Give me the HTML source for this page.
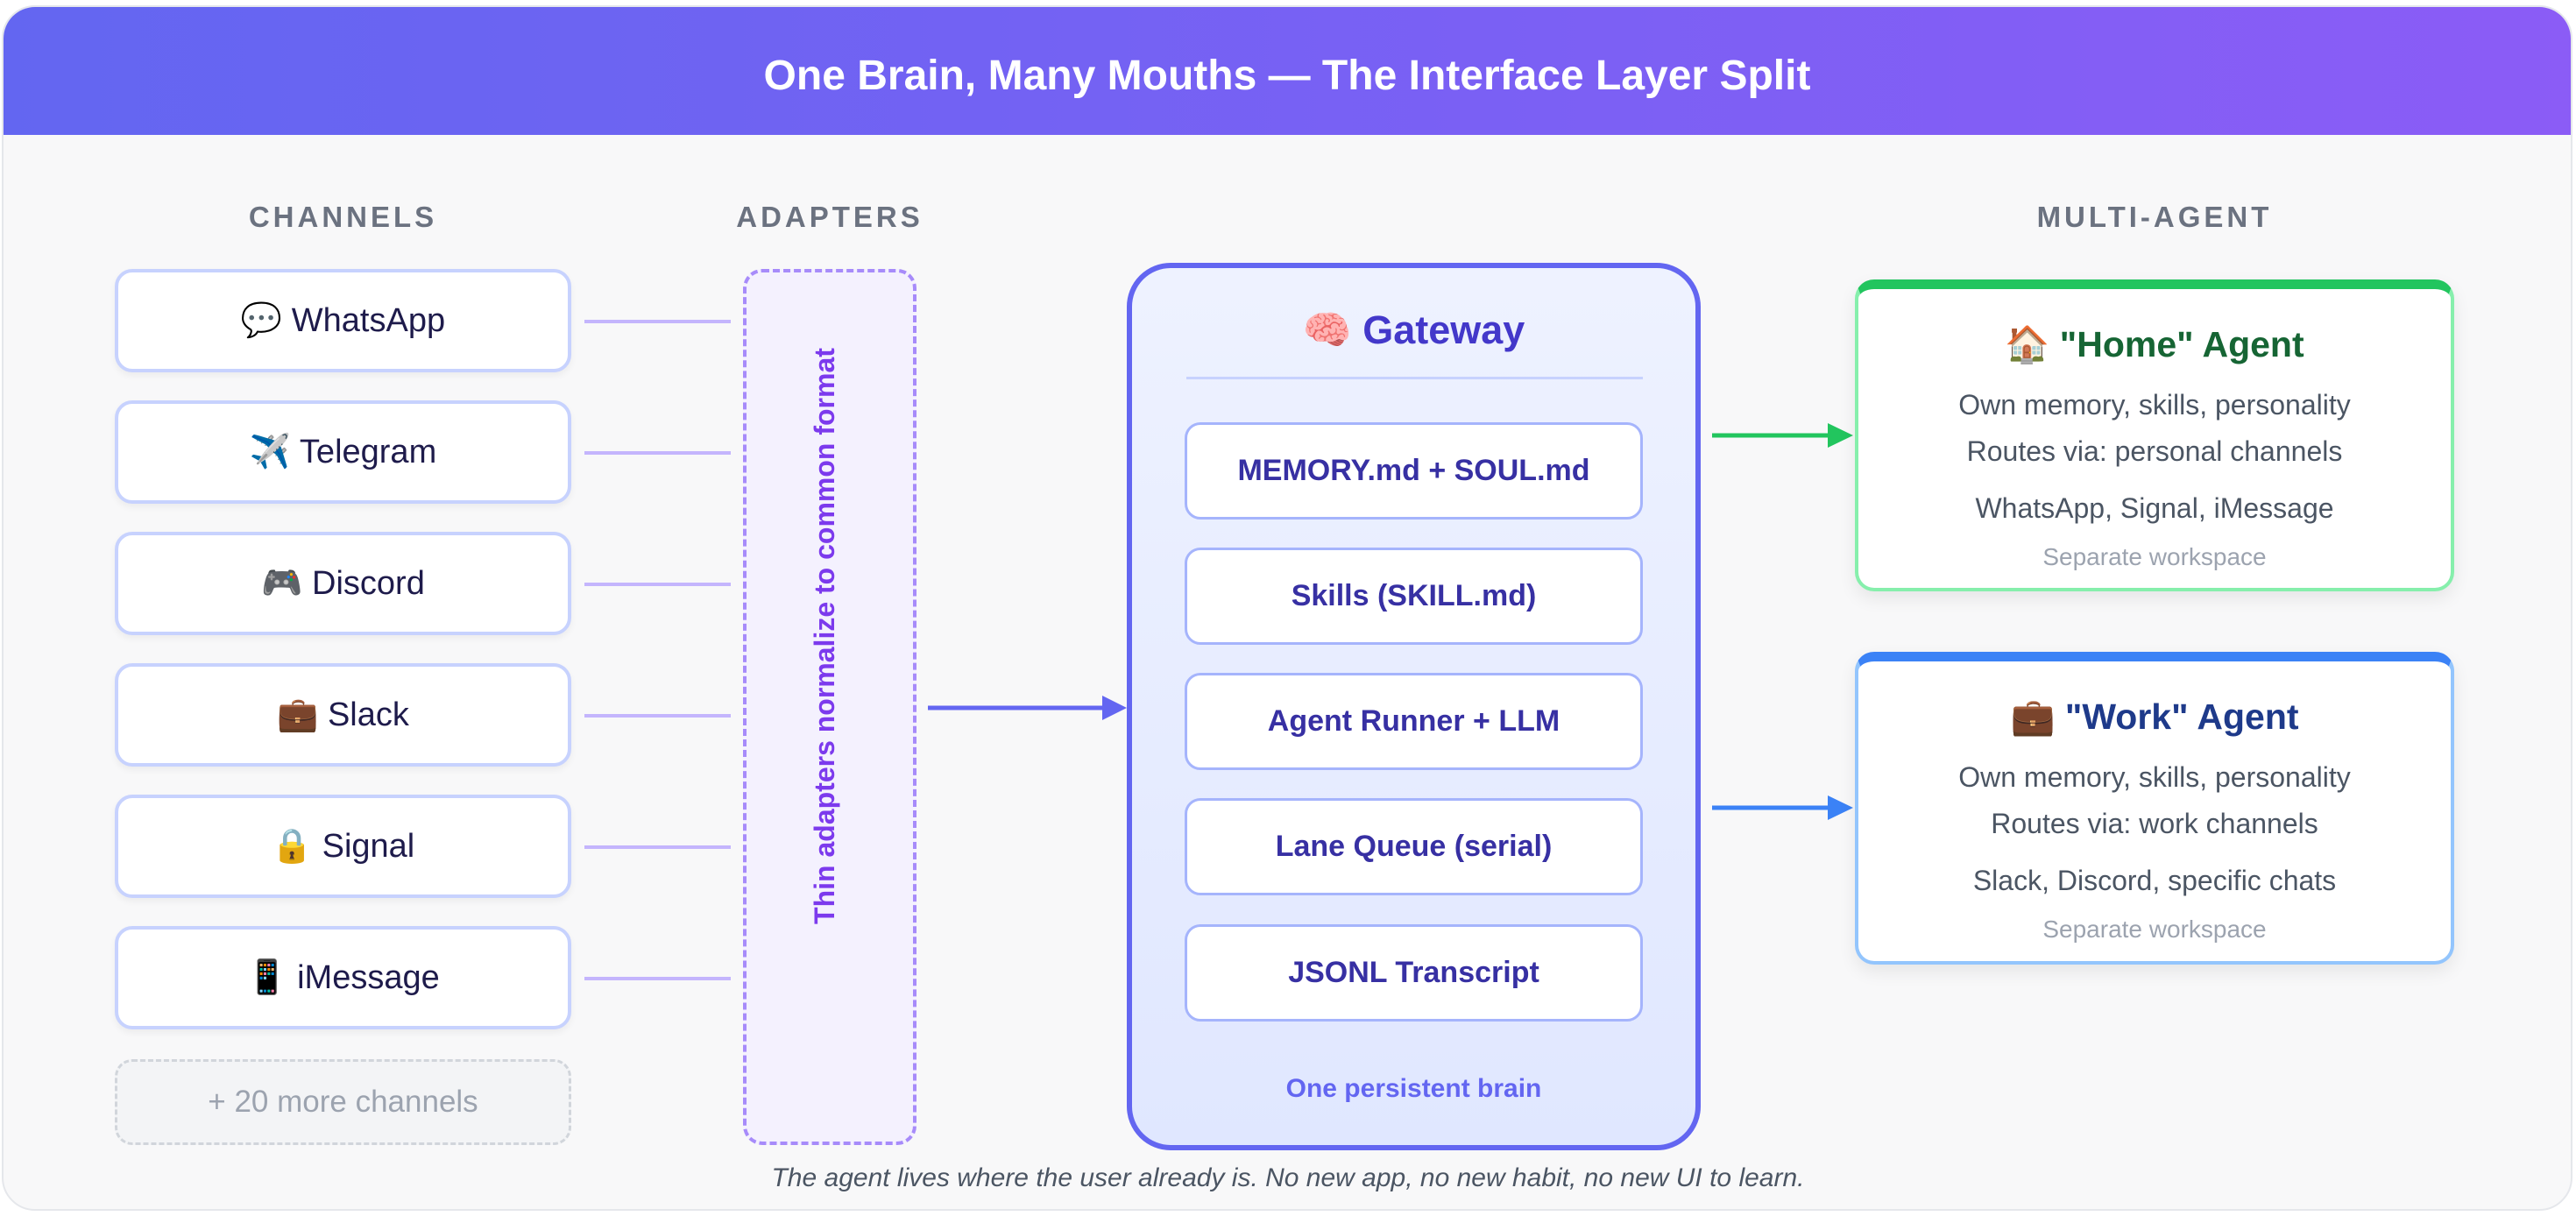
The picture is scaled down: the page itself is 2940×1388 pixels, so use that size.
<!DOCTYPE html>
<html><head><meta charset="utf-8"><style>
*{margin:0;padding:0;box-sizing:border-box}
body{width:2940px;height:1388px;background:#fff;font-family:"Liberation Sans","Noto Sans CJK SC",sans-serif;position:relative;overflow:hidden}
.card{position:absolute;left:2px;top:6px;width:2934px;height:1376px;border-radius:38px;background:#f8f8f9;border:2px solid #e5e7eb;overflow:hidden}
.hdr{position:absolute;left:0;top:0;width:100%;height:146px;background:linear-gradient(90deg,#6366f1,#8b5cf6);color:#fff;font-weight:bold;font-size:48px;text-align:center;line-height:158px}
.a{position:absolute}
.lbl{position:absolute;font-size:33px;font-weight:bold;color:#6b7280;letter-spacing:4px;text-align:center}
.ch{position:absolute;left:131px;width:521px;height:118px;background:#fff;border:4px solid #c7d2fe;border-radius:20px;font-size:38px;color:#1e1b4b;text-align:center;line-height:110px;font-weight:500;box-shadow:0 4px 8px rgba(0,0,0,.05)}
.ln{position:absolute;left:667px;width:167px;height:4px;background:#c4b5fd}
.gi{position:absolute;left:1352px;width:523px;height:111px;background:#fff;border:3px solid #a5b4fc;border-radius:18px;font-size:34px;font-weight:bold;color:#3730a3;text-align:center;line-height:105px}
.ag{position:absolute;left:2117px;width:684px;background:#fff;border-radius:22px;text-align:center;box-shadow:0 8px 20px rgba(0,0,0,.08)}
.t{position:absolute;left:0;width:100%;text-align:center}
</style></head><body>
<div class="card">
<div class="hdr">One Brain, Many Mouths — The Interface Layer Split</div>
</div>
<div class="lbl" style="left:131px;width:521px;top:229px">CHANNELS</div>
<div class="lbl" style="left:780px;width:334px;top:229px">ADAPTERS</div>
<div class="lbl" style="left:2117px;width:684px;top:229px">MULTI-AGENT</div>

<div class="ch" style="top:307px">💬 WhatsApp</div>
<div class="ch" style="top:457px">✈️ Telegram</div>
<div class="ch" style="top:607px">🎮 Discord</div>
<div class="ch" style="top:757px">💼 Slack</div>
<div class="ch" style="top:907px">🔒 Signal</div>
<div class="ch" style="top:1057px">📱 iMessage</div>
<div class="ch" style="top:1209px;height:98px;border:3px dashed #d1d5db;background:#f3f4f6;color:#9ca3af;line-height:92px;box-shadow:none;font-weight:normal;font-size:35px">+ 20 more channels</div>

<div class="ln" style="top:365px"></div>
<div class="ln" style="top:515px"></div>
<div class="ln" style="top:665px"></div>
<div class="ln" style="top:815px"></div>
<div class="ln" style="top:965px"></div>
<div class="ln" style="top:1115px"></div>

<div class="a" style="left:848px;top:307px;width:198px;height:1000px;border:4px dashed #a78bfa;border-radius:22px;background:#f4f1fe"></div>
<div class="a" style="left:941px;top:726px;width:0;height:0">
<div style="position:absolute;left:-500px;top:-20px;width:1000px;text-align:center;font-size:32px;font-weight:bold;color:#7c3aed;transform:rotate(-90deg);line-height:40px">Thin adapters normalize to common format</div></div>

<svg class="a" style="left:0;top:0" width="2940" height="1388">
<line x1="1059" y1="808" x2="1262" y2="808" stroke="#6366f1" stroke-width="5"/>
<polygon points="1258,794 1286,808 1258,822" fill="#6366f1"/>
<line x1="1954" y1="497" x2="2090" y2="497" stroke="#22c55e" stroke-width="5"/>
<polygon points="2086,483 2115,497 2086,511" fill="#22c55e"/>
<line x1="1954" y1="922" x2="2090" y2="922" stroke="#3b82f6" stroke-width="5"/>
<polygon points="2086,908 2115,922 2086,936" fill="#3b82f6"/>
</svg>

<div class="a" style="left:1286px;top:300px;width:655px;height:1013px;border:6px solid #6366f1;border-radius:50px;background:linear-gradient(180deg,#eef2ff,#e0e7ff)"></div>
<div class="t" style="left:1286px;width:655px;top:350px;font-size:45px;font-weight:bold;color:#4338ca">🧠 Gateway</div>
<div class="a" style="left:1354px;top:430px;width:521px;height:3px;background:#c7d2fe"></div>
<div class="gi" style="top:482px">MEMORY.md + SOUL.md</div>
<div class="gi" style="top:625px">Skills (SKILL.md)</div>
<div class="gi" style="top:768px">Agent Runner + LLM</div>
<div class="gi" style="top:911px">Lane Queue (serial)</div>
<div class="gi" style="top:1055px">JSONL Transcript</div>
<div class="t" style="left:1286px;width:655px;top:1226px;font-size:30px;font-weight:bold;color:#6366f1">One persistent brain</div>

<div class="ag" style="top:319px;height:356px;border:4px solid #86efac;border-top:11px solid #22c55e">
<div class="t" style="top:40px;font-size:41px;font-weight:bold;color:#166534">🏠 "Home" Agent</div>
<div class="t" style="top:114px;font-size:32px;color:#4b5563">Own memory, skills, personality</div>
<div class="t" style="top:167px;font-size:32px;color:#4b5563">Routes via: personal channels</div>
<div class="t" style="top:232px;font-size:32px;color:#4b5563">WhatsApp, Signal, iMessage</div>
<div class="t" style="top:290px;font-size:28px;color:#9ca3af">Separate workspace</div>
</div>
<div class="ag" style="top:744px;height:357px;border:4px solid #93c5fd;border-top:11px solid #3b82f6">
<div class="t" style="top:40px;font-size:41px;font-weight:bold;color:#1e3a8a">💼 "Work" Agent</div>
<div class="t" style="top:114px;font-size:32px;color:#4b5563">Own memory, skills, personality</div>
<div class="t" style="top:167px;font-size:32px;color:#4b5563">Routes via: work channels</div>
<div class="t" style="top:232px;font-size:32px;color:#4b5563">Slack, Discord, specific chats</div>
<div class="t" style="top:290px;font-size:28px;color:#9ca3af">Separate workspace</div>
</div>

<div class="t" style="top:1328px;font-size:30px;font-style:italic;color:#4b5563">The agent lives where the user already is. No new app, no new habit, no new UI to learn.</div>
</body></html>
